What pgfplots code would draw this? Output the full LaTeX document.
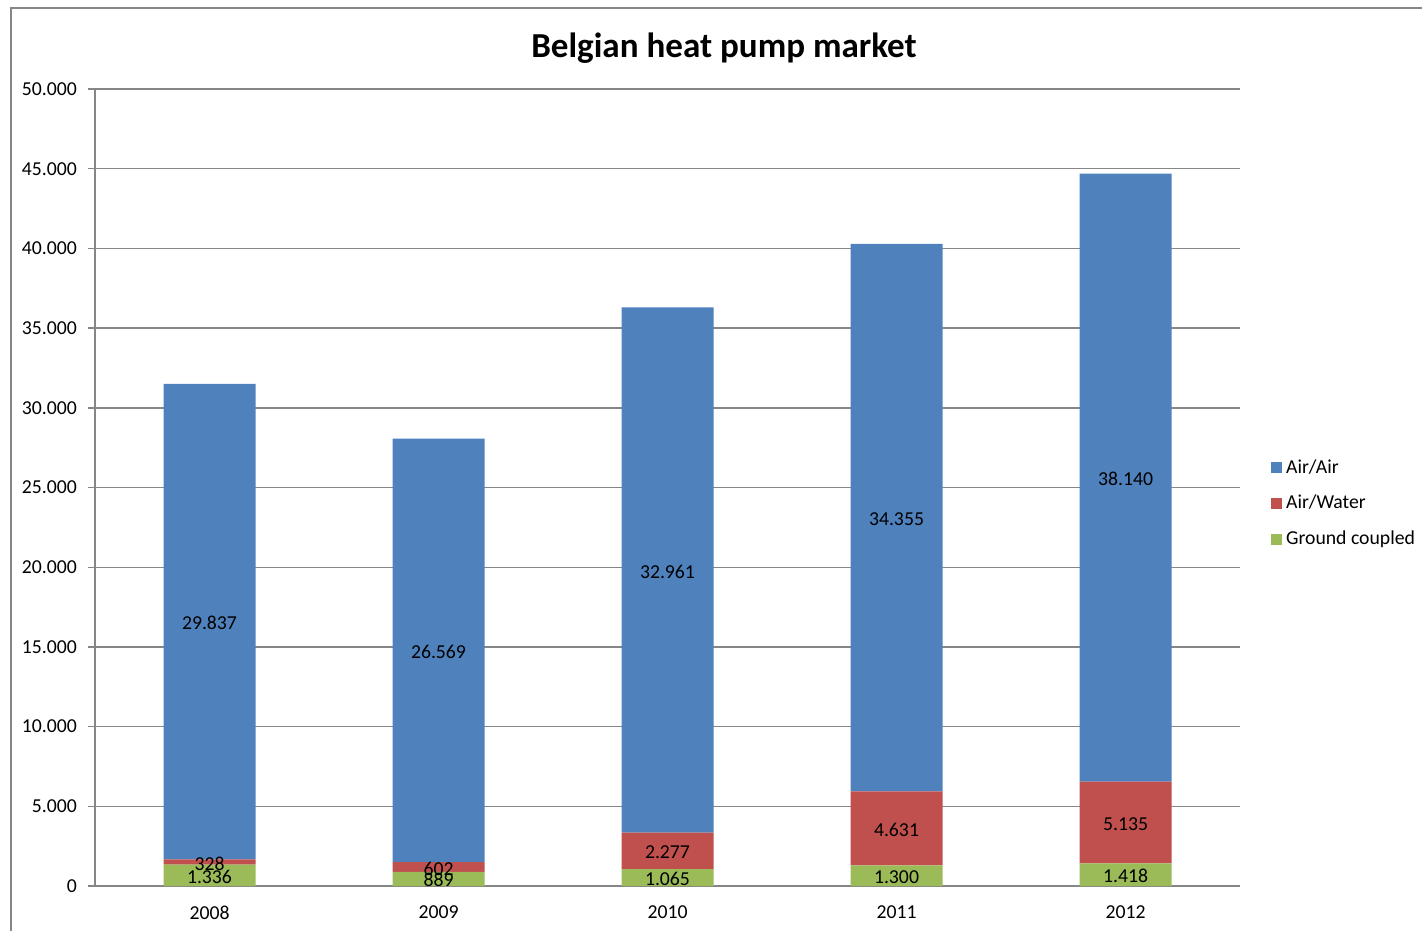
\documentclass[border=0pt]{standalone}
\usepackage{pgfplots}
\usepackage{pgfplotstable}
\pgfplotsset{compat=1.18}
\usepackage{fontspec}
\setmainfont{Carlito}
\definecolor{cblue}{RGB}{79,129,189}
\definecolor{cred}{RGB}{192,80,77}
\definecolor{cgreen}{RGB}{155,187,89}
\definecolor{cgrid}{RGB}{134,134,134}
\pgfplotstableread{
x ground water air
0 1336 328 29837
1 889 602 26569
2 1065 2277 32961
3 1300 4631 34355
4 1418 5135 38140
}\datatable
\pgfplotstableread{
x y label
0 668 1.336
0 1500 328
0 16582.5 29.837
1 444.5 889
1 1190 602
1 14775.5 26.569
2 532.5 1.065
2 2203.5 2.277
2 19822.5 32.961
3 650 1.300
3 3615.5 4.631
3 23108.5 34.355
4 709 1.418
4 3985.5 5.135
4 25623 38.140
}\labeltable
\begin{document}
\begin{tikzpicture}
\useasboundingbox (0,0) rectangle (711bp,-465.5bp);
\draw[cgrid, line width=0.8bp] (5.5bp,-470bp) -- (5.5bp,-4bp) -- (715bp,-4bp);
\node[font=\fontsize{17.6}{21}\selectfont\bfseries] at (362bp,-24bp) {Belgian heat pump market};
\begin{axis}[
  at={(47.5bp,-443bp)}, anchor=south west,
  scale only axis, width=572.5bp, height=398.5bp,
  ybar stacked, bar width=46bp,
  xmin=-0.5, xmax=4.5, ymin=0, ymax=50000,
  xtick={0,1,2,3,4}, xticklabels={2008,2009,2010,2011,2012},
  minor xtick={-0.5,0.5,1.5,2.5,3.5,4.5},
  ytick={0,5000,...,50000},
  scaled y ticks=false,
  axis x line*=bottom, axis y line*=left,
  axis line style={cgrid, line width=0.7bp, -},
  tick align=outside,
  major tick length=3.5bp, minor tick length=3.5bp,
  xtick style={draw=none},
  minor x tick style={cgrid, line width=0.7bp},
  ytick style={cgrid, line width=0.7bp},
  ymajorgrids, grid style={cgrid, line width=0.7bp},
  tick label style={font=\fontsize{9.9}{12}\selectfont, text=black},
  /pgf/number format/fixed,
  /pgf/number format/precision=0,
  /pgf/number format/1000 sep={.},
  /pgf/number format/assume math mode=true,
  xticklabel style={yshift=-3bp},
  yticklabel style={xshift=-2bp},
  legend style={at={(rel axis cs:1.027,0.480)}, anchor=west, draw=none,
    font=\fontsize{9.9}{12}\selectfont, row sep=5.5bp, inner sep=0pt},
  legend cell align=left,
  reverse legend,
]
\addplot[fill=cgreen, draw=none, legend image code/.code={\fill[cgreen] (0bp,-2.7bp) rectangle (5.4bp,2.7bp);}] table[x=x, y=ground] {\datatable};
\addlegendentry{Ground coupled}
\addplot[fill=cred, draw=none, legend image code/.code={\fill[cred] (0bp,-2.7bp) rectangle (5.4bp,2.7bp);}] table[x=x, y=water] {\datatable};
\addlegendentry{Air/Water}
\addplot[fill=cblue, draw=none, legend image code/.code={\fill[cblue] (0bp,-2.7bp) rectangle (5.4bp,2.7bp);}] table[x=x, y=air] {\datatable};
\addlegendentry{Air/Air}
\end{axis}
\begin{axis}[
  at={(47.5bp,-443bp)}, anchor=south west,
  scale only axis, width=572.5bp, height=398.5bp,
  xmin=-0.5, xmax=4.5, ymin=0, ymax=50000,
  hide axis,
]
\addplot[only marks, mark=none, nodes near coords, point meta=explicit symbolic,
  every node near coord/.append style={anchor=center, yshift=-0.7bp, font=\fontsize{9.9}{12}\selectfont, text=black}]
  table[x=x, y=y, meta=label] {\labeltable};
\end{axis}
\end{tikzpicture}
\end{document}
